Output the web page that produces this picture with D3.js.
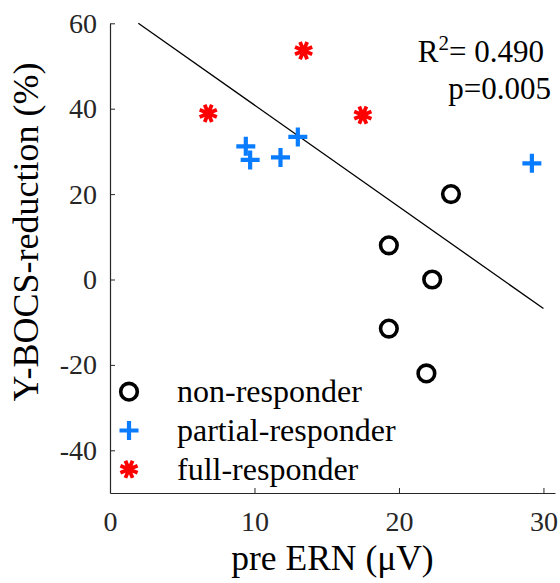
<!DOCTYPE html>
<html>
<head>
<meta charset="utf-8">
<script src="https://cdn.jsdelivr.net/npm/d3@7"></script>
<style>
  html, body { margin: 0; padding: 0; background: #fff; }
  svg { display: block; }
  text { font-family: "Liberation Serif", "Times New Roman", serif; }
</style>
</head>
<body>
<svg id="chart" width="560" height="583"></svg>
<script>
// pre ERN amplitude (µV) and Y-BOCS reduction (%) per group
const nonX = [23.6, 19.3, 22.3, 19.3, 21.9];
const nonY = [20.0, 8.0, 0.0, -11.5, -22.0];
const partialX = [9.4, 9.7, 11.8, 13.0, 29.2];
const partialY = [31.2, 28.0, 28.6, 33.4, 27.2];
const fullX = [6.8, 13.4, 17.5];
const fullY = [38.9, 53.6, 38.5];

// least-squares fit drawn across the sample range
const fitX = [1.96, 30.0];
const fitY = [60.0, -6.8];

const xTicks = [0, 10, 20, 30];
const yTicks = [-40, -20, 0, 20, 40, 60];
const xDomain = [0, 30.8];
const yDomain = [-50, 60];

const legendLabels = ["non-responder", "partial-responder", "full-responder"];
const statLines = ["= 0.490", "p=0.005"];

const svg = d3.select("#chart");
const plotLeft = 110, plotRight = 555, plotTop = 23.3, plotBottom = 493;
const serif = "'Liberation Serif', 'Times New Roman', serif";

const x = d3.scaleLinear().domain(xDomain).range([plotLeft, plotRight]);
const y = d3.scaleLinear().domain(yDomain).range([plotBottom, plotTop]);

const axisColor = "#262626";
const blue = "#0a7cff";
const red = "#ff0000";
const fmt = v => String(v); // plain hyphen for negatives

// axes with inward ticks
const gx = svg.append("g").attr("transform", `translate(0,${plotBottom})`)
  .call(d3.axisBottom(x).tickValues(xTicks).tickFormat(fmt)
    .tickSizeInner(-5).tickSizeOuter(0).tickPadding(18));
const gy = svg.append("g").attr("transform", `translate(${plotLeft},0)`)
  .call(d3.axisLeft(y).tickValues(yTicks).tickFormat(fmt)
    .tickSizeInner(-5).tickSizeOuter(0).tickPadding(13));
[gx, gy].forEach(g => {
  g.attr("font-family", serif).attr("font-size", 28);
  g.select(".domain").attr("stroke", axisColor).attr("stroke-width", 1.2);
  g.selectAll(".tick line").attr("stroke", axisColor).attr("stroke-width", 1);
  g.selectAll(".tick text").attr("fill", axisColor)
    .style("font-family", serif).style("font-size", "28px");
});

// axis titles
svg.append("text")
  .attr("x", (plotLeft + plotRight) / 2).attr("y", 570)
  .attr("text-anchor", "middle").attr("fill", "#000")
  .style("font-size", "35.5px")
  .text("pre ERN (\u03bcV)");
svg.append("text")
  .attr("transform", "translate(38,232) rotate(-90)")
  .attr("text-anchor", "middle").attr("fill", "#000")
  .style("font-size", "36px")
  .text("Y-BOCS-reduction (%)");

// regression line
svg.append("line")
  .attr("x1", x(fitX[0])).attr("y1", y(fitY[0]))
  .attr("x2", x(fitX[1])).attr("y2", y(fitY[1]))
  .attr("stroke", "#000").attr("stroke-width", 1.3);

// marker shapes
function drawCircle(g, cx, cy) {
  g.append("circle").attr("cx", cx).attr("cy", cy).attr("r", 8.3)
    .attr("fill", "none").attr("stroke", "#000").attr("stroke-width", 3.6);
}
function drawPlus(g, cx, cy) {
  const h = 9.5;
  g.append("path")
    .attr("d", `M${cx - h},${cy}H${cx + h}M${cx},${cy - h}V${cy + h}`)
    .attr("stroke", blue).attr("stroke-width", 4.2).attr("fill", "none");
}
function drawStar(g, cx, cy) {
  const h = 9.3;
  let d = "";
  for (let k = 0; k < 4; k++) {
    const a = k * Math.PI / 4 + Math.PI / 8;
    const dx = h * Math.cos(a), dy = h * Math.sin(a);
    d += `M${cx - dx},${cy - dy}L${cx + dx},${cy + dy}`;
  }
  g.append("path").attr("d", d)
    .attr("stroke", red).attr("stroke-width", 3.8).attr("fill", "none");
  g.append("circle").attr("cx", cx).attr("cy", cy).attr("r", 4.5).attr("fill", red);
}

const marks = svg.append("g");
nonX.forEach((v, i) => drawCircle(marks, x(v), y(nonY[i])));
partialX.forEach((v, i) => drawPlus(marks, x(v), y(partialY[i])));
fullX.forEach((v, i) => drawStar(marks, x(v), y(fullY[i])));

// legend
const legend = svg.append("g");
const rowY = [391.7, 430.5, 469.3];
const drawers = [drawCircle, drawPlus, drawStar];
legendLabels.forEach((lab, i) => {
  drawers[i](legend, 129, rowY[i]);
  legend.append("text").attr("x", 177).attr("y", rowY[i]).attr("dy", "0.33em")
    .attr("fill", "#000").style("font-size", "32px").text(lab);
});

// statistics annotation
const stat = svg.append("text").attr("x", 544).attr("y", 62)
  .attr("text-anchor", "end").attr("fill", "#000").style("font-size", "31px");
stat.append("tspan").text("R");
stat.append("tspan").attr("dy", -12).style("font-size", "21px").text("2");
stat.append("tspan").attr("dy", 12).text(statLines[0]);
svg.append("text").attr("x", 551).attr("y", 99)
  .attr("text-anchor", "end").attr("fill", "#000").style("font-size", "31px")
  .text(statLines[1]);
</script>
</body>
</html>
